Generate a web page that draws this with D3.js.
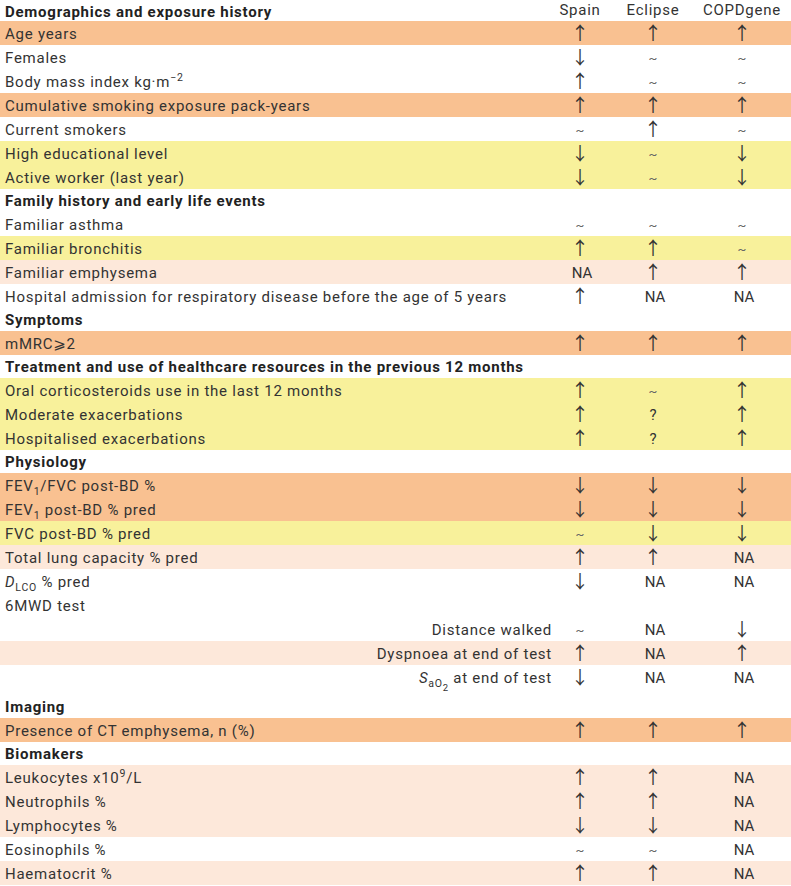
<!DOCTYPE html>
<html>
<head>
<meta charset="utf-8">
<script src="https://cdn.jsdelivr.net/npm/d3@7"></script>
<style>
  html, body { margin: 0; padding: 0; background: #fff; }
  svg text { font-family: Roboto, "DejaVu Sans", sans-serif; fill: #333; letter-spacing: 0.75px; }
</style>
</head>
<body>
<svg id="chart" width="791" height="886"></svg>
<script>
// row labels; _{} sub, __{} deeper sub, ^{} sup, *{} italic
const labels = [
  "Demographics and exposure history",
  "Age years",
  "Females",
  "Body mass index kg·m^{−2}",
  "Cumulative smoking exposure pack-years",
  "Current smokers",
  "High educational level",
  "Active worker (last year)",
  "Family history and early life events",
  "Familiar asthma",
  "Familiar bronchitis",
  "Familiar emphysema",
  "Hospital admission for respiratory disease before the age of 5 years",
  "Symptoms",
  "mMRC⩾2",
  "Treatment and use of healthcare resources in the previous 12 months",
  "Oral corticosteroids use in the last 12 months",
  "Moderate exacerbations",
  "Hospitalised exacerbations",
  "Physiology",
  "FEV_{1}/FVC post-BD %",
  "FEV_{1} post-BD % pred",
  "FVC post-BD % pred",
  "Total lung capacity % pred",
  "*{D}_{LCO} % pred",
  "6MWD test",
  "Distance walked",
  "Dyspnoea at end of test",
  "*{S}_{aO}__{2} at end of test",
  "Imaging",
  "Presence of CT emphysema, n (%)",
  "Biomakers",
  "Leukocytes x10^{9}/L",
  "Neutrophils %",
  "Lymphocytes %",
  "Eosinophils %",
  "Haematocrit %"
];

// section = header row, item = variable, sub = 6MWD sub-item
const kinds = [
  "section","item","item","item","item","item","item","item",
  "section","item","item","item","item",
  "section","item",
  "section","item","item","item",
  "section","item","item","item","item","item","item","sub","sub","sub",
  "section","item",
  "section","item","item","item","item","item"
];

const studies = ["Spain", "Eclipse", "COPDgene"];

// up / down / ns (~) / NA / ? ; "" = nothing
const spain = [
  "","up","down","up","up","ns","down","down",
  "","ns","up","NA","up",
  "","up",
  "","up","up","up",
  "","down","down","ns","up","down","","ns","up","down",
  "","up",
  "","up","up","down","ns","up"
];
const eclipse = [
  "","up","ns","ns","up","up","ns","ns",
  "","ns","up","up","NA",
  "","up",
  "","ns","?","?",
  "","down","down","down","up","NA","","NA","NA","NA",
  "","up",
  "","up","up","down","ns","up"
];
const copdgene = [
  "","up","ns","ns","up","ns","down","down",
  "","ns","ns","up","NA",
  "","up",
  "","up","up","up",
  "","down","down","down","NA","NA","","down","up","NA",
  "","up",
  "","NA","NA","NA","NA","NA"
];

// consistency of the finding, shown as row shading
const agreement = [
  "","all","","","all","","partial","partial",
  "","","partial","weak","",
  "","all",
  "","partial","partial","partial",
  "","all","all","partial","weak","","","","weak","",
  "","all",
  "","weak","weak","weak","","weak"
];

const shade = { all: "#f9c191", partial: "#f8f19b", weak: "#fde8da" };
const glyph = { up: "↑", down: "↓", ns: "~", NA: "NA", "?": "?" };

const svg = d3.select("#chart");
const W = 791;

// row layout
const rowH = (k, l, i) => k === "section" ? (i === 0 ? 21 : 23) : (l.includes("__{") ? 30 : 24);
let acc = 0;
const rows = labels.map((l, i) => {
  const h = rowH(kinds[i], l, i);
  const r = { i, label: l, kind: kinds[i], top: acc, h,
    vals: [spain[i], eclipse[i], copdgene[i]], shade: agreement[i] };
  acc += h;
  return r;
});

const x = d3.scaleOrdinal().domain(studies).range([580, 653, 742]);

// backgrounds
svg.append("g").selectAll("rect")
  .data(rows.filter(r => r.shade))
  .join("rect")
  .attr("x", 0).attr("width", W)
  .attr("y", r => r.top).attr("height", r => r.h)
  .attr("fill", r => shade[r.shade]);

// label parser
function segments(s) {
  const re = /(\*|__|_|\^)\{([^}]*)\}|([^*_^]+)/g;
  const out = [];
  let m;
  while ((m = re.exec(s)) !== null) {
    if (m[3]) out.push({ t: m[3], type: "n" });
    else out.push({ t: m[2], type: m[1] });
  }
  return out;
}

function drawLabel(sel, str) {
  let off = 0;
  segments(str).forEach(seg => {
    let target = 0, size = null, italic = false;
    if (seg.type === "_") { target = 4; size = "10.5px"; }
    else if (seg.type === "__") { target = 8; size = "9.5px"; }
    else if (seg.type === "^") { target = -6; size = "10.5px"; }
    else if (seg.type === "*") { italic = true; }
    const ts = sel.append("tspan").text(seg.t);
    if (target !== off) { ts.attr("dy", target - off); off = target; }
    if (size) ts.style("font-size", size);
    if (italic) ts.style("font-style", "italic");
  });
}

const lab = svg.append("g").selectAll("text")
  .data(rows)
  .join("text")
  .attr("x", r => r.kind === "sub" ? 552 : 5)
  .attr("y", r => r.top + (r.kind === "section" ? 17 : 18))
  .attr("text-anchor", r => r.kind === "sub" ? "end" : "start")
  .style("font-size", "15px")
  .style("font-weight", r => r.kind === "section" ? 700 : 400)
  .style("fill", r => r.kind === "section" ? "#222" : "#333");
lab.each(function(r) { drawLabel(d3.select(this), r.label); });

// column heads
svg.append("g").selectAll("text")
  .data(studies)
  .join("text")
  .attr("x", d => x(d)).attr("y", 15)
  .attr("text-anchor", "middle")
  .style("font-size", "15px")
  .text(d => d);

// cells
const cells = rows.flatMap(r => r.vals.map((v, j) => ({ r, v, s: studies[j] })))
  .filter(c => c.v);

const isArrow = v => v === "up" || v === "down";

svg.append("g").selectAll("text")
  .data(cells)
  .join("text")
  .attr("x", c => x(c.s) + (c.v === "NA" ? 2 : 0))
  .attr("y", c => {
    const mid = c.r.top + Math.min(c.r.h, 24) / 2;
    if (isArrow(c.v)) return mid + 7;
    if (c.v === "ns") return mid + 6;
    return mid + 6;
  })
  .attr("text-anchor", "middle")
  .style("letter-spacing", "0px")
  .style("font-family", c => isArrow(c.v) ? "'Noto Sans CJK JP', 'DejaVu Sans', sans-serif" : null)
  .style("font-size", c => c.v === "ns" ? "13px" : isArrow(c.v) ? "18px" : "15px")
  .style("fill", c => c.v === "ns" ? "#666" : "#333")
  .text(c => glyph[c.v]);
</script>
</body>
</html>
